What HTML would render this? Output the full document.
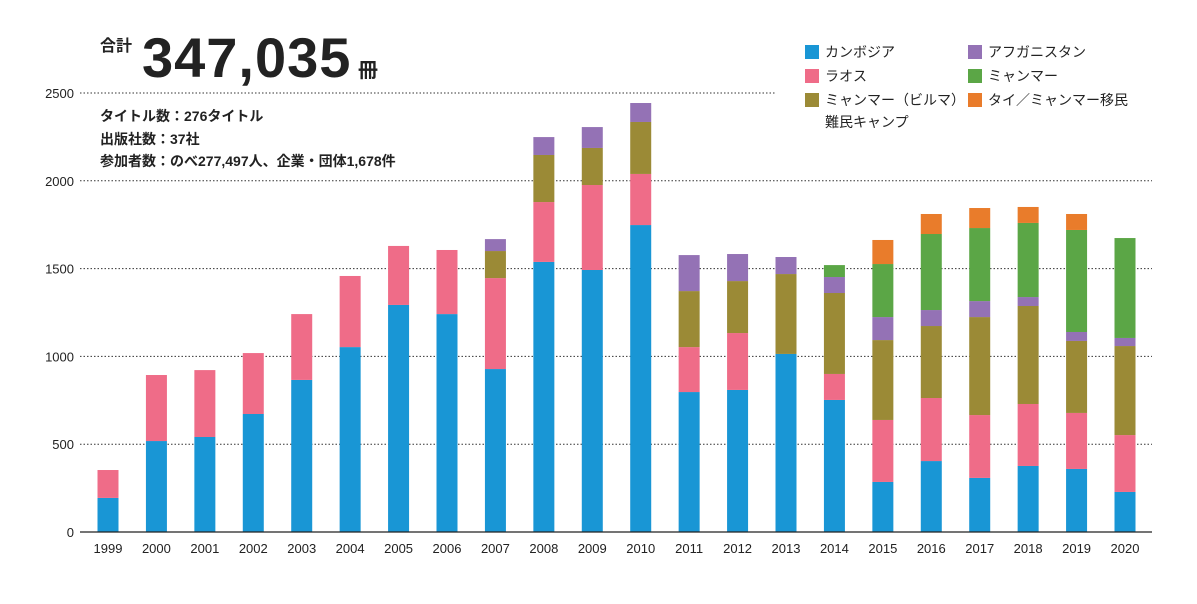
<!DOCTYPE html>
<html><head><meta charset="utf-8">
<style>
body{margin:0;background:#fff;}
svg text{font-family:"Liberation Sans","Noto Sans CJK JP",sans-serif;}
</style></head><body>
<svg width="1197" height="599" viewBox="0 0 1197 599" xmlns="http://www.w3.org/2000/svg">
<g>
<text x="100" y="51" font-size="16" font-weight="bold" fill="#222">合計</text>
<text x="142" y="77" font-size="56" font-weight="bold" fill="#222" letter-spacing="1">347,035</text>
<text x="358" y="77" font-size="20" font-weight="bold" fill="#222">冊</text>
<text x="100" y="121" font-size="14" font-weight="bold" fill="#222">タイトル数：276タイトル</text>
<text x="100" y="144" font-size="14" font-weight="bold" fill="#222">出版社数：37社</text>
<text x="100" y="166" font-size="14" font-weight="bold" fill="#222">参加者数：のべ277,497人、企業・団体1,678件</text>
</g>
<g id="grid"></g>
<g id="yaxis"></g>
<g id="bars"></g>
<g id="xaxis"></g>
<g id="legend"></g>
</svg>
<script>
const years=["1999","2000","2001","2002","2003","2004","2005","2006","2007","2008","2009","2010","2011","2012","2013","2014","2015","2016","2017","2018","2019","2020"];
const cambodia=[194,518,541,672,866,1053,1293,1241,928,1538,1492,1748,797,809,1014,752,285,404,308,376,359,228];
const laos=[159,376,381,347,375,405,336,365,518,341,484,291,256,324,0,148,353,359,358,353,319,324];
const myanmarCamp=[0,0,0,0,0,0,0,0,154,268,211,296,319,296,455,461,455,410,558,558,410,507];
const afghanistan=[0,0,0,0,0,0,0,0,68,102,119,108,205,154,97,91,131,91,91,51,51,46];
const myanmar=[0,0,0,0,0,0,0,0,0,0,0,0,0,0,0,68,302,433,416,422,581,569];
const thaiMyanmar=[0,0,0,0,0,0,0,0,0,0,0,0,0,0,0,0,137,114,114,91,91,0];
const yTicks=[0,500,1000,1500,2000,2500];
const series=[cambodia,laos,myanmarCamp,afghanistan,myanmar,thaiMyanmar];
const seriesNames=["cambodia","laos","myanmar-camp","afghanistan","myanmar","thai-myanmar"];
const colors=["#1996d5","#ef6c88","#9b8a36","#9472b5","#5ba646","#e97c2b"];
const NS="http://www.w3.org/2000/svg";
const y0=532,yTop=93,vMax=2500,x0=108,step=(1125-108)/21,bw=21;
const Y=v=>y0-(v/vMax)*(y0-yTop);
const X=i=>x0+i*step;
function mk(tag,attrs,parent){const e=document.createElementNS(NS,tag);for(const k in attrs)e.setAttribute(k,attrs[k]);parent.appendChild(e);return e;}
const grid=document.getElementById('grid'),yax=document.getElementById('yaxis'),bars=document.getElementById('bars'),xax=document.getElementById('xaxis'),leg=document.getElementById('legend');
yTicks.forEach(t=>{
  if(t>0){const l=mk('line',{x1:80,x2:t===2500?776:1152,y1:Y(t),y2:Y(t),stroke:'#333','stroke-width':1,'stroke-dasharray':'1.5,2'},grid);
  
  }
  const tx=mk('text',{x:74,y:Y(t)+5,'font-size':13,'text-anchor':'end',fill:'#222'},yax);tx.textContent=t;
  
  
});
years.forEach((yr,i)=>{
  let acc=0;
  series.forEach((s,k)=>{
    const v=s[i];if(v<=0)return;
    const r=mk('rect',{x:X(i)-bw/2,y:Y(acc+v),width:bw,height:Y(acc)-Y(acc+v),fill:colors[k]},bars);
    
    
    acc+=v;
  });
  const tx=mk('text',{x:X(i),y:553,'font-size':13,'text-anchor':'middle',fill:'#222'},xax);tx.textContent=yr;
  
  
});
const ax=mk('line',{x1:80,x2:1152,y1:y0,y2:y0,stroke:'#222','stroke-width':1.2},xax);


const legItems=[["カンボジア",0,805,52],["アフガニスタン",3,968,52],["ラオス",1,805,76],["ミャンマー",4,968,76],["ミャンマー（ビルマ）",2,805,100],["タイ／ミャンマー移民",5,968,100]];
legItems.forEach(([lab,k,x,y])=>{
  const g=mk('g',{},leg);
  
  
  mk('rect',{x:x,y:y-7,width:14,height:14,fill:colors[k]},g);
  const t=mk('text',{x:x+20,y:y+5,'font-size':14,fill:'#222'},g);t.textContent=lab;
});
const t2=mk('text',{x:825,y:127,'font-size':14,fill:'#222'},leg);t2.textContent="難民キャンプ";


</script>
</body></html>
